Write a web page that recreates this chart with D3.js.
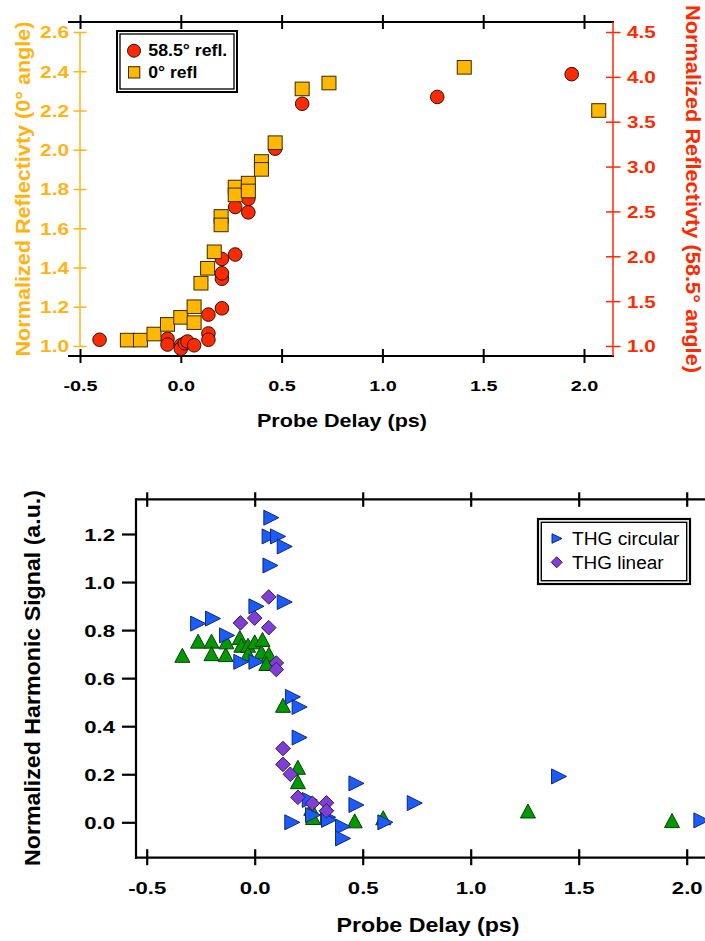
<!DOCTYPE html>
<html>
<head>
<meta charset="utf-8">
<script src="https://cdn.jsdelivr.net/npm/d3@7"></script>
<style>
  html, body { margin:0; padding:0; background:#fff; }
  svg { display:block; }
  text { font-family: "Liberation Sans", Arial, sans-serif; }
</style>
</head>
<body>
<svg id="chart" width="705" height="941"></svg>
<script>
// ---------------- DATA ----------------
const probeDelayTicks = [-0.5, 0.0, 0.5, 1.0, 1.5, 2.0];
const reflLeftTicks   = [1.0, 1.2, 1.4, 1.6, 1.8, 2.0, 2.2, 2.4, 2.6];
const reflRightTicks  = [1.0, 1.5, 2.0, 2.5, 3.0, 3.5, 4.0, 4.5];
const harmonicTicks   = [0.0, 0.2, 0.4, 0.6, 0.8, 1.0, 1.2];

// 58.5° reflectivity (right axis)
const refl585Delay = [-0.403, -0.066, -0.066, 0.000, 0.000, 0.020, 0.033, 0.066, 0.137, 0.137, 0.137,
                      0.204, 0.204, 0.204, 0.204, 0.270, 0.270, 0.335, 0.335, 0.468, 0.602, 1.272, 1.939];
const refl585Value = [1.07, 1.08, 1.016, 1.008, 0.97, 1.03, 1.05, 1.008, 1.14, 1.07, 1.35,
                      1.42, 1.75, 1.81, 1.97, 2.02, 2.55, 2.49, 2.64, 3.20, 3.70, 3.776, 4.03];
// 0° reflectivity (left axis)
const refl0Delay = [-0.265, -0.200, -0.133, -0.066, 0.000, 0.066, 0.066, 0.100, 0.133, 0.166, 0.200, 0.200,
                    0.270, 0.270, 0.335, 0.335, 0.400, 0.400, 0.468, 0.602, 0.735, 1.406, 2.073];
const refl0Value = [1.03, 1.03, 1.061, 1.11, 1.146, 1.20, 1.119, 1.32, 1.396, 1.48, 1.66, 1.617,
                    1.81, 1.77, 1.83, 1.79, 1.94, 1.90, 2.036, 2.31, 2.34, 2.42, 2.20];

// THG circular (blue right triangles)
const thgCircDelay = [0.077, 0.069, 0.108, 0.139, 0.073, 0.139, 0.008, -0.262, -0.193, -0.128, -0.062, 0.008,
                      0.177, 0.208, 0.208, 0.174, 0.255, 0.270, 0.340, 0.344, 0.409, 0.409, 0.471, 0.471,
                      0.605, 0.741, 1.409, 2.068];
const thgCircValue = [1.268, 1.19, 1.19, 1.148, 1.069, 0.917, 0.899, 0.827, 0.848, 0.778, 0.668, 0.668,
                      0.522, 0.48, 0.353, 0.0, 0.093, 0.030, 0.021, 0.010, -0.018, -0.067, 0.162, 0.072,
                      0.0, 0.080, 0.191, 0.008];
// THG linear (purple diamonds)
const thgLinDelay = [0.065, 0.000, -0.066, 0.065, 0.100, 0.100, 0.131, 0.131, 0.165, 0.200, 0.267, 0.332, 0.332];
const thgLinValue = [0.938, 0.850, 0.830, 0.810, 0.663, 0.636, 0.307, 0.241, 0.200, 0.104, 0.079, 0.081, 0.048];
// third harmonic series without legend entry (green triangles)
const greenDelay = [-0.335, -0.262, -0.200, -0.200, -0.134, -0.131, -0.069, -0.062, -0.031, -0.031, 0.000,
                    0.036, 0.031, 0.066, 0.054, 0.131, 0.200, 0.200, 0.262, 0.270, 0.463, 0.595, 1.265, 1.932];
const greenValue = [0.695, 0.754, 0.754, 0.702, 0.698, 0.751, 0.769, 0.737, 0.737, 0.702, 0.751,
                    0.761, 0.709, 0.700, 0.661, 0.487, 0.229, 0.169, 0.058, 0.020, 0.006, 0.019, 0.047, 0.007];

// ---------------- STYLE ----------------
const ORANGE_TXT = "#FFB414", ORANGE_FILL = "#FFB700";
const RED_TXT = "#FF2A00", RED_FILL = "#FF2A00";
const BLUE = "#1A5CFF", PURPLE = "#7F3FD3", GREEN = "#009A00";

const svg = d3.select("#chart");
const fmt = d => d.toFixed(1);

function stretch(sel, k) {
  sel.each(function () {
    const w = this.getComputedTextLength();
    d3.select(this).attr("textLength", w * k).attr("lengthAdjust", "spacingAndGlyphs");
  });
}
function fitTo(sel, len) {
  sel.attr("textLength", len).attr("lengthAdjust", "spacingAndGlyphs");
}

// ================= TOP CHART =================
const xT = d3.scaleLinear().domain([-0.5, 2.0]).range([80, 584]);
const yL = d3.scaleLinear().domain([1.0, 2.6]).range([346, 32]);
const yR = d3.scaleLinear().domain([1.0, 4.5]).range([346, 32]);
const T = { left: 68, right: 614, top: 22, bottom: 356 };

const gTop = svg.append("g");

gTop.append("line").attr("x1", T.left).attr("x2", T.right).attr("y1", T.top).attr("y2", T.top)
  .attr("stroke", "#000").attr("stroke-width", 2);
gTop.append("line").attr("x1", T.left).attr("x2", T.right).attr("y1", T.bottom).attr("y2", T.bottom)
  .attr("stroke", "#000").attr("stroke-width", 2);

const gxb = gTop.append("g").attr("transform", `translate(0,${T.bottom})`)
  .call(d3.axisBottom(xT).tickValues(probeDelayTicks).tickSize(7).tickFormat(fmt));
gxb.select(".domain").remove();
gxb.selectAll(".tick line").attr("y1", -7).attr("stroke", "#000").attr("stroke-width", 2);
gxb.selectAll(".tick text").attr("y", 34.5).attr("dy", null).attr("fill", "#000")
  .style("font-size", "15px").style("font-weight", "bold").call(stretch, 1.32);

const gxt = gTop.append("g").attr("transform", `translate(0,${T.top})`)
  .call(d3.axisTop(xT).tickValues(probeDelayTicks).tickSize(7).tickFormat(""));
gxt.select(".domain").remove();
gxt.selectAll(".tick line").attr("y1", 7).attr("stroke", "#000").attr("stroke-width", 2);

const gyl = gTop.append("g").attr("transform", "translate(80,0)")
  .call(d3.axisLeft(yL).tickValues(reflLeftTicks).tickSize(6.5).tickFormat(fmt));
gyl.select(".domain").remove();
gTop.append("line").attr("x1", 80).attr("x2", 80).attr("y1", yL(2.6)).attr("y2", yL(1.0))
  .attr("stroke", ORANGE_TXT).attr("stroke-width", 1.5);
gyl.selectAll(".tick line").attr("x1", 6.5).attr("stroke", ORANGE_TXT).attr("stroke-width", 1.5);
gyl.selectAll(".tick text").attr("x", -11).attr("dy", "0.36em").attr("fill", ORANGE_TXT)
  .style("font-size", "16px").style("font-weight", "bold").call(stretch, 1.3);

const gyr = gTop.append("g").attr("transform", "translate(613,0)")
  .call(d3.axisRight(yR).tickValues(reflRightTicks).tickSize(7.5).tickFormat(fmt));
gyr.select(".domain").remove();
gTop.append("line").attr("x1", 613).attr("x2", 613).attr("y1", T.top).attr("y2", T.bottom)
  .attr("stroke", RED_TXT).attr("stroke-width", 1.5);
gyr.selectAll(".tick line").attr("x1", -7).attr("stroke", RED_TXT).attr("stroke-width", 1.5);
gyr.selectAll(".tick text").attr("x", 14).attr("dy", "0.36em").attr("fill", RED_TXT)
  .style("font-size", "16.5px").style("font-weight", "bold").call(stretch, 1.25);

gTop.append("text").attr("x", 342).attr("y", 427).attr("text-anchor", "middle")
  .style("font-size", "19px").style("font-weight", "bold").text("Probe Delay (ps)").call(fitTo, 170);
gTop.append("text").attr("transform", "translate(30,189) rotate(-90)").attr("text-anchor", "middle")
  .attr("fill", ORANGE_TXT).style("font-size", "20px").style("font-weight", "bold")
  .text("Normalized Reflectivty (0° angle)").call(fitTo, 335);
gTop.append("text").attr("transform", "translate(686,189) rotate(90)").attr("text-anchor", "middle")
  .attr("fill", RED_TXT).style("font-size", "21px").style("font-weight", "bold")
  .text("Normalized Reflectivty (58.5° angle)").call(fitTo, 368);

const r585 = refl585Delay.map((d, i) => ({ x: d, y: refl585Value[i] }));
const r0 = refl0Delay.map((d, i) => ({ x: d, y: refl0Value[i] }));
gTop.append("g").selectAll("circle").data(r585).join("circle")
  .attr("cx", d => xT(d.x)).attr("cy", d => yR(d.y)).attr("r", 6.8)
  .attr("fill", RED_FILL).attr("stroke", "#2a1208").attr("stroke-width", 1);
gTop.append("g").selectAll("rect").data(r0).join("rect")
  .attr("x", d => xT(d.x) - 7).attr("y", d => yL(d.y) - 6.8).attr("width", 14).attr("height", 13.6)
  .attr("fill", ORANGE_FILL).attr("stroke", "#3a2a00").attr("stroke-width", 1);

const lgT = gTop.append("g");
lgT.append("rect").attr("x", 117).attr("y", 31).attr("width", 120).attr("height", 61)
  .attr("fill", "#fff").attr("stroke", "#000").attr("stroke-width", 2);
lgT.append("rect").attr("x", 120).attr("y", 34).attr("width", 114).attr("height", 55)
  .attr("fill", "none").attr("stroke", "#000").attr("stroke-width", 1.3);
lgT.append("circle").attr("cx", 134).attr("cy", 50.7).attr("r", 6.5)
  .attr("fill", RED_FILL).attr("stroke", "#2a1208").attr("stroke-width", 1);
lgT.append("rect").attr("x", 128.5).attr("y", 66.7).attr("width", 11.3).attr("height", 11.3)
  .attr("fill", ORANGE_FILL).attr("stroke", "#3a2a00").attr("stroke-width", 1);
lgT.append("text").attr("x", 148.3).attr("y", 55.5).style("font-size", "16px").style("font-weight", "bold")
  .text("58.5° refl.").call(fitTo, 79);
lgT.append("text").attr("x", 148.3).attr("y", 77.5).style("font-size", "16px").style("font-weight", "bold")
  .text("0° refl").call(fitTo, 49);

// ================= BOTTOM CHART =================
const xB = d3.scaleLinear().domain([-0.5, 2.0]).range([146.7, 686.7]);
const yB = d3.scaleLinear().domain([0, 1.2]).range([822.3, 534]);
const B = { left: 136, right: 705, top: 499.3, bottom: 857.7 };

const gBot = svg.append("g");
gBot.append("line").attr("x1", B.left).attr("x2", B.right).attr("y1", B.top).attr("y2", B.top)
  .attr("stroke", "#000").attr("stroke-width", 2.2);
gBot.append("line").attr("x1", B.left - 1).attr("x2", B.right).attr("y1", B.bottom).attr("y2", B.bottom)
  .attr("stroke", "#000").attr("stroke-width", 2.2);
gBot.append("line").attr("x1", B.left).attr("x2", B.left).attr("y1", B.top - 1).attr("y2", B.bottom + 1)
  .attr("stroke", "#000").attr("stroke-width", 2.2);

const bxb = gBot.append("g").attr("transform", `translate(0,${B.bottom})`)
  .call(d3.axisBottom(xB).tickValues(probeDelayTicks).tickSize(7.5).tickFormat(fmt));
bxb.select(".domain").remove();
bxb.selectAll(".tick line").attr("y1", -8.5).attr("stroke", "#000").attr("stroke-width", 2.2);
bxb.selectAll(".tick text").attr("y", 36.3).attr("dy", null).attr("fill", "#000")
  .style("font-size", "17px").style("font-weight", "bold").call(stretch, 1.3);

const bxt = gBot.append("g").attr("transform", `translate(0,${B.top})`)
  .call(d3.axisTop(xB).tickValues(probeDelayTicks).tickSize(7).tickFormat(""));
bxt.select(".domain").remove();
bxt.selectAll(".tick line").attr("y1", 7.5).attr("stroke", "#000").attr("stroke-width", 2.2);

const byl = gBot.append("g").attr("transform", `translate(${B.left},0)`)
  .call(d3.axisLeft(yB).tickValues(harmonicTicks).tickSize(14).tickFormat(fmt));
byl.select(".domain").remove();
byl.selectAll(".tick line").attr("stroke", "#000").attr("stroke-width", 2.2);
byl.selectAll(".tick text").attr("x", -21).attr("dy", "0.36em").attr("fill", "#000")
  .style("font-size", "17px").style("font-weight", "bold").call(stretch, 1.3);

gBot.append("text").attr("x", 428).attr("y", 931.5).attr("text-anchor", "middle")
  .style("font-size", "19.5px").style("font-weight", "bold").text("Probe Delay (ps)").call(fitTo, 183);
gBot.append("text").attr("transform", "translate(40,678) rotate(-90)").attr("text-anchor", "middle")
  .style("font-size", "22px").style("font-weight", "bold")
  .text("Normalized Harmonic Signal (a.u.)").call(fitTo, 376);

const triRight = (w, h) => `M${-w/2},${-h/2}L${w/2},0L${-w/2},${h/2}Z`;
const triUp = (w, h) => `M0,${-h/2}L${w/2},${h/2}L${-w/2},${h/2}Z`;
const diamond = s => `M0,${-s}L${s},0L0,${s}L${-s},0Z`;

const gData = greenDelay.map((d, i) => ({ x: d, y: greenValue[i] }));
const cData = thgCircDelay.map((d, i) => ({ x: d, y: thgCircValue[i] }));
const lData = thgLinDelay.map((d, i) => ({ x: d, y: thgLinValue[i] }));

gBot.append("g").selectAll("path").data(gData).join("path")
  .attr("transform", d => `translate(${xB(d.x)},${yB(d.y)})`).attr("d", triUp(15, 14))
  .attr("fill", GREEN).attr("stroke", "#0b3d0b").attr("stroke-width", 1);
gBot.append("g").selectAll("path").data(cData).join("path")
  .attr("transform", d => `translate(${xB(d.x)},${yB(d.y)})`).attr("d", triRight(15, 15))
  .attr("fill", BLUE).attr("stroke", "#14296b").attr("stroke-width", 1);
gBot.append("g").selectAll("path").data(lData).join("path")
  .attr("transform", d => `translate(${xB(d.x)},${yB(d.y)})`).attr("d", diamond(7.3))
  .attr("fill", PURPLE).attr("stroke", "#351660").attr("stroke-width", 1);

const lgB = gBot.append("g");
lgB.append("rect").attr("x", 538).attr("y", 519).attr("width", 152).attr("height", 65)
  .attr("fill", "#fff").attr("stroke", "#000").attr("stroke-width", 2.2);
lgB.append("rect").attr("x", 541.3).attr("y", 522.3).attr("width", 145.4).attr("height", 58.4)
  .attr("fill", "none").attr("stroke", "#000").attr("stroke-width", 1.4);
lgB.append("path").attr("transform", "translate(557,538.5)").attr("d", triRight(10, 9.5))
  .attr("fill", BLUE).attr("stroke", "#14296b").attr("stroke-width", 1);
lgB.append("path").attr("transform", "translate(556.7,562.3)").attr("d", diamond(5.5))
  .attr("fill", PURPLE).attr("stroke", "#351660").attr("stroke-width", 1);
lgB.append("text").attr("x", 572).attr("y", 544.5).style("font-size", "18px")
  .text("THG circular").call(fitTo, 107.5);
lgB.append("text").attr("x", 572).attr("y", 568.5).style("font-size", "18px")
  .text("THG linear").call(fitTo, 91.5);
</script>
</body>
</html>
